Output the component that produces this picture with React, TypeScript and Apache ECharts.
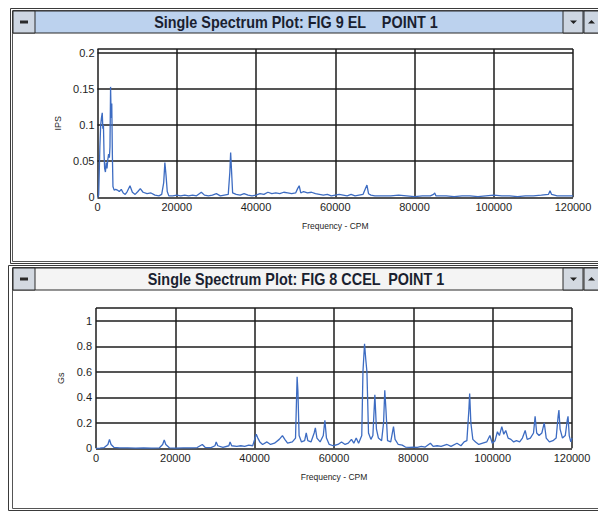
import React, { useEffect, useRef } from "react";
import * as echarts from "echarts";

// ---- Top spectrum (FIG 9 EL) : velocity, IPS ----
const freqTop = [
  0, 300, 600, 800, 1000, 1200, 1350, 1500, 1650, 1800, 2000, 2200, 2400, 2600, 2800, 3000, 3150, 3300, 3450, 3600,
  3750, 3900, 4200, 4600, 5000, 5500, 6000, 6500, 7000, 7500, 8200, 8800, 9500, 10200, 10800, 11500, 12500, 13500,
  14500, 15500, 16200, 16700, 17000, 17300, 17600, 18000, 19000, 20000, 21000, 22000, 23000, 24000, 25000, 26200,
  27000, 28000, 29000, 30000, 31000, 32000, 33000, 33400, 33600, 33800, 34100, 35000, 36000, 37000, 38000, 39000,
  40000, 41000, 42000, 43000, 44000, 45000, 46000, 47000, 48000, 49000, 50000, 50500, 50900, 51300, 52000, 53000,
  54000, 55000, 56000, 57000, 58000, 59000, 60000, 61000, 62000, 63000, 64000, 65000, 66000, 67000, 67600, 68000,
  68400, 69000, 70000, 72000, 74000, 76000, 78000, 80000, 82000, 84000, 84800, 85100, 85400, 88000, 90000, 92000,
  94000, 96000, 98000, 100000, 102000, 104000, 106000, 108000, 110000, 112000, 113800, 114200, 114600, 116000,
  118000, 120000,
];
const ipsTop = [
  0, 0.003, 0.07, 0.1, 0.11, 0.117, 0.095, 0.1, 0.06, 0.04, 0.035, 0.048, 0.04, 0.052, 0.06, 0.055, 0.07, 0.153, 0.11,
  0.13, 0.06, 0.015, 0.01, 0.011, 0.01, 0.008, 0.011, 0.006, 0.004, 0.008, 0.016, 0.007, 0.004, 0.008, 0.012, 0.007,
  0.005, 0.006, 0.003, 0.002, 0.004, 0.02, 0.048, 0.03, 0.008, 0.002, 0.002, 0.003, 0.002, 0.003, 0.002, 0.003,
  0.002, 0.007, 0.003, 0.002, 0.003, 0.005, 0.002, 0.003, 0.004, 0.035, 0.062, 0.04, 0.006, 0.004, 0.003, 0.005,
  0.003, 0.002, 0.003, 0.005, 0.004, 0.007, 0.005, 0.006, 0.005, 0.007, 0.006, 0.005, 0.006, 0.012, 0.016, 0.006,
  0.008, 0.006, 0.007, 0.005, 0.004, 0.003, 0.004, 0.002, 0.003, 0.004, 0.003, 0.002, 0.004, 0.002, 0.003, 0.004,
  0.012, 0.017, 0.005, 0.003, 0.002, 0.002, 0.002, 0.003, 0.002, 0.001, 0.002, 0.002, 0.004, 0.006, 0.002, 0.002,
  0.001, 0.002, 0.002, 0.001, 0.002, 0.003, 0.002, 0.002, 0.001, 0.002, 0.002, 0.003, 0.004, 0.009, 0.004, 0.002,
  0.002, 0.002,
];

// ---- Bottom spectrum (FIG 8 CCEL) : acceleration, Gs ----
const freqBottom = [
  0, 1000, 2000, 3000, 3400, 3800, 4500, 6000, 8000, 10000, 12000, 14000, 16000, 16800, 17200, 17600, 18500, 20000,
  22000, 24000, 25500, 26800, 27500, 29000, 30000, 30300, 30700, 32000, 33500, 33800, 34200, 35500, 36500, 37500,
  38500, 39500, 40100, 40400, 40800, 41300, 42000, 43100, 44000, 45000, 46200, 47000, 47600, 48300, 49500, 50300,
  50700, 50900, 51200, 51800, 52600, 53000, 53400, 54200, 55000, 55300, 55700, 56500, 57300, 57700, 58100, 58800,
  59800, 61000, 61900, 62800, 63600, 64400, 65000, 65600, 66200, 67000, 67300, 67700, 68000, 68300, 68700, 69300,
  69800, 70300, 70700, 71200, 72000, 72500, 72800, 73100, 73500, 74300, 75000, 75400, 76200, 77200, 78000, 79000,
  80000, 81000, 82000, 83000, 84300, 85000, 86000, 87000, 88500, 89500, 91000, 92000, 92800, 93500, 94000, 94200,
  94500, 95000, 95700, 96500, 97500, 98500, 99300, 99900, 100600, 101200, 101700, 102300, 102800, 103300, 103900,
  104600, 105300, 106000, 106800, 107500, 108200, 108700, 109500, 110300, 110700, 111100, 111700, 112400, 113000,
  113500, 114300, 115200, 116000, 116500, 116700, 117000, 117600, 118300, 118800, 119000, 119300, 119700, 120000,
];
const gsBottom = [
  0, 0.002, 0.005, 0.03, 0.07, 0.03, 0.008, 0.004, 0.003, 0.002, 0.003, 0.002, 0.004, 0.03, 0.065, 0.03, 0.004,
  0.002, 0.003, 0.004, 0.006, 0.03, 0.008, 0.005, 0.02, 0.05, 0.02, 0.008, 0.02, 0.05, 0.02, 0.015, 0.02, 0.015,
  0.025, 0.02, 0.08, 0.11, 0.08, 0.05, 0.03, 0.05, 0.03, 0.04, 0.07, 0.1, 0.07, 0.04, 0.05, 0.08, 0.56, 0.45, 0.1,
  0.05, 0.06, 0.12, 0.06, 0.05, 0.12, 0.16, 0.08, 0.05, 0.1, 0.22, 0.08, 0.03, 0.02, 0.03, 0.05, 0.03, 0.04, 0.07,
  0.04, 0.08, 0.04, 0.1, 0.6, 0.82, 0.7, 0.6, 0.12, 0.07, 0.1, 0.42, 0.15, 0.08, 0.06, 0.2, 0.455, 0.3, 0.06, 0.05,
  0.17, 0.07, 0.03, 0.025, 0.01, 0.008, 0.01, 0.008, 0.015, 0.01, 0.04, 0.015, 0.02, 0.015, 0.03, 0.015, 0.04, 0.02,
  0.05, 0.06, 0.3, 0.43, 0.2, 0.07, 0.05, 0.03, 0.04, 0.05, 0.1, 0.04, 0.06, 0.13, 0.1, 0.17, 0.11, 0.14, 0.08, 0.07,
  0.05, 0.06, 0.05, 0.08, 0.14, 0.07, 0.08, 0.12, 0.25, 0.12, 0.1, 0.12, 0.2, 0.08, 0.05, 0.06, 0.08, 0.25, 0.3, 0.15,
  0.08, 0.1, 0.22, 0.25, 0.1, 0.05, 0.08,
];

const xTicksMax = 120000;
const xInterval = 20000;
const topTitle = "Single Spectrum Plot: FIG 9 EL    POINT 1";
const bottomTitle = "Single Spectrum Plot: FIG 8 CCEL  POINT 1";
const xName = "Frequency - CPM";
const yNameTop = "IPS";
const yNameBottom = "Gs";

const zip = (xs: number[], ys: number[]) => xs.map((x, i) => [x, ys[i]]);

const FONT = "'Liberation Sans', Arial, sans-serif";
const AXFONT = "'Liberation Sans', Arial, sans-serif";
const LINE = "#3d6cc2";
const GRIDC = "#1c1c1c";

function windowChrome(y0: number, h: number, active: boolean, title: string, xOuter: number) {
  const barFill = active ? "#bcd2ee" : "#f4f4f4";
  const btnFill = active ? "#cdd6e2" : "#d3d9e1";
  const barY = y0 + 3;
  const barH = 22;
  const cy = barY + barH / 2;
  return [
    { type: "rect", shape: { x: xOuter + 0.5, y: y0 + 0.5, width: 598 - xOuter + 5, height: h }, style: { fill: "#fff", stroke: "#3a3a3a", lineWidth: 1 } },
    { type: "rect", shape: { x: 12.5, y: y0 + 2.5, width: 598, height: h - 4 }, style: { fill: "none", stroke: "#555", lineWidth: 1 } },
    { type: "rect", shape: { x: 13, y: barY, width: 598, height: barH }, style: { fill: barFill, stroke: "#2a2a2a", lineWidth: 1 } },
    { type: "rect", shape: { x: 13, y: barY, width: 22, height: barH }, style: { fill: btnFill, stroke: "#2a2a2a", lineWidth: 1 } },
    { type: "rect", shape: { x: 20, y: cy - 1.5, width: 8, height: 3 }, style: { fill: "#2a2a2a" } },
    { type: "rect", shape: { x: 563, y: barY, width: 20, height: barH }, style: { fill: btnFill, stroke: "#2a2a2a", lineWidth: 1 } },
    { type: "rect", shape: { x: 584, y: barY, width: 20, height: barH }, style: { fill: btnFill, stroke: "#2a2a2a", lineWidth: 1 } },
    { type: "polygon", shape: { points: [[570, cy - 1.5], [577, cy - 1.5], [573.5, cy + 2]] }, style: { fill: "#222" } },
    { type: "polygon", shape: { points: [[588, cy + 1.5], [595, cy + 1.5], [591.5, cy - 2]] }, style: { fill: "#222" } },
    {
      type: "text",
      x: 296,
      y: cy,
      scaleX: 0.9,
      style: { text: title, font: `bold 16px ${FONT}`, fill: "#1a1f30", align: "center", verticalAlign: "middle" },
    },
  ];
}

export default function App() {
  const ref = useRef<HTMLDivElement>(null);
  useEffect(() => {
    if (!ref.current) return;
    const chart = echarts.init(ref.current, null, { renderer: "svg" });
    const axisLabel = { color: "#1e1e1e", fontFamily: AXFONT, fontSize: 11 };
    const xAxisCommon = {
      type: "value",
      min: 0,
      max: xTicksMax,
      interval: xInterval,
      axisLine: { show: false },
      axisTick: { show: false },
      axisLabel: { ...axisLabel, margin: 4, formatter: (v: number) => String(v) },
      splitLine: { show: true, lineStyle: { color: GRIDC, width: 1.5 } },
      name: xName,
      nameLocation: "middle",
      nameGap: 24,
      nameTextStyle: { color: "#1e1e1e", fontFamily: AXFONT, fontSize: 8.5 },
    };
    const yAxisCommon = {
      type: "value",
      min: 0,
      axisLine: { show: false },
      axisTick: { show: false },
      splitLine: { show: true, lineStyle: { color: GRIDC, width: 1.5 } },
      nameLocation: "middle",
      nameRotate: 90,
      nameTextStyle: { color: "#1e1e1e", fontFamily: AXFONT, fontSize: 9 },
    };
    chart.setOption({
      animation: false,
      backgroundColor: "#fff",
      graphic: [
        ...windowChrome(8, 255, true, topTitle, 10),
        ...windowChrome(265, 245, false, bottomTitle, 8),
      ],
      grid: [
        { left: 97.5, top: 49, width: 475.5, height: 148.3, show: true, borderColor: "#111", borderWidth: 1.5, backgroundColor: "#fff" },
        { left: 96, top: 308, width: 476, height: 140.3, show: true, borderColor: "#111", borderWidth: 1.5, backgroundColor: "#fff" },
      ],
      xAxis: [
        { ...xAxisCommon, gridIndex: 0 },
        { ...xAxisCommon, gridIndex: 1 },
      ],
      yAxis: [
        {
          ...yAxisCommon,
          gridIndex: 0,
          max: 0.2055,
          interval: 0.05,
          name: yNameTop,
          nameGap: 26,
          axisLabel: { ...axisLabel, margin: 3, showMaxLabel: false },
        },
        {
          ...yAxisCommon,
          gridIndex: 1,
          max: 1.1,
          interval: 0.2,
          name: yNameBottom,
          nameGap: 23,
          axisLabel: { ...axisLabel, margin: 4, showMaxLabel: false },
        },
      ],
      series: [
        {
          type: "line",
          xAxisIndex: 0,
          yAxisIndex: 0,
          data: zip(freqTop, ipsTop),
          showSymbol: false,
          lineStyle: { color: LINE, width: 1.3 },
          itemStyle: { color: LINE },
        },
        {
          type: "line",
          xAxisIndex: 1,
          yAxisIndex: 1,
          data: zip(freqBottom, gsBottom),
          showSymbol: false,
          lineStyle: { color: LINE, width: 1.3 },
          itemStyle: { color: LINE },
        },
      ],
    });
    return () => chart.dispose();
  }, []);
  return <div ref={ref} style={{ position: "absolute", left: 0, top: 0, width: 598, height: 511 }} />;
}
